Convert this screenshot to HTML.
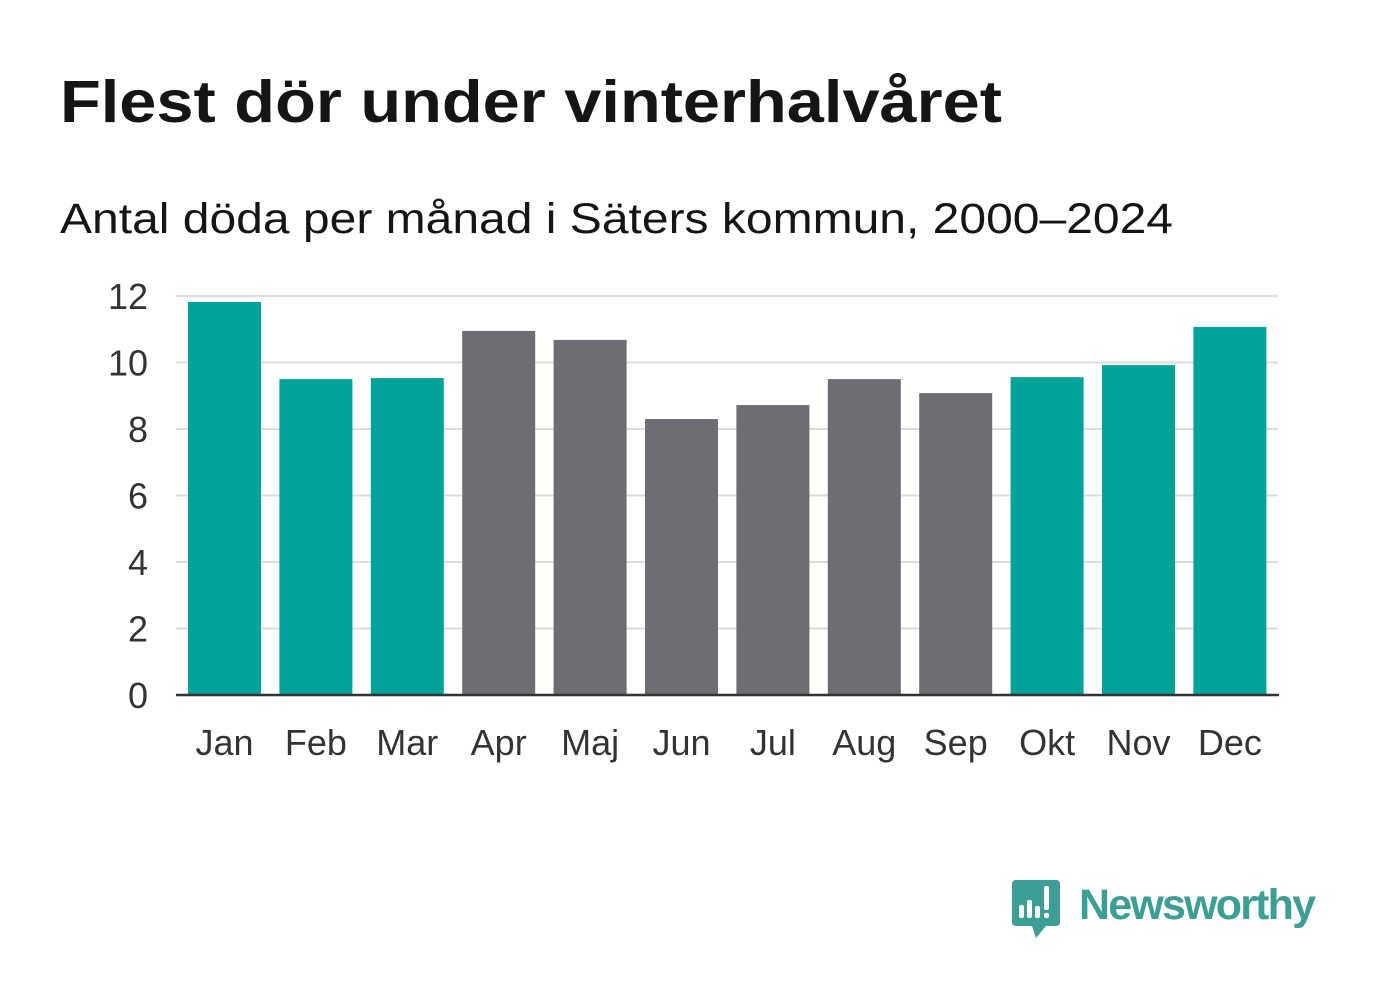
<!DOCTYPE html>
<html><head><meta charset="utf-8"><style>
body{margin:0;width:1382px;height:999px;background:#fff;font-family:"Liberation Sans",sans-serif;overflow:hidden}
svg{position:absolute;left:0;top:0}
</style></head><body>
<svg width="1382" height="999">
<text x="60" y="122" font-size="59" font-weight="bold" fill="#151515" textLength="942" lengthAdjust="spacingAndGlyphs">Flest dör under vinterhalvåret</text>
<text x="60" y="233" font-size="43" fill="#151515" textLength="1113" lengthAdjust="spacingAndGlyphs">Antal döda per månad i Säters kommun, 2000–2024</text>
<g id="grid"></g><g id="bars"></g><g id="xl"></g>
<line x1="176" x2="1279" y1="695" y2="695" stroke="#333" stroke-width="2.5"/>
<g>
<path d="M1016 880 H1056 Q1060 880 1060 884 V922 Q1060 926 1056 926 H1046 L1036 938 L1032 926 H1016 Q1012 926 1012 922 V884 Q1012 880 1016 880 Z" fill="#3d9e95"/>
<rect x="1019" y="905" width="5" height="13" rx="2" fill="#fff"/>
<rect x="1027" y="900" width="5" height="18" rx="2" fill="#fff"/>
<rect x="1035" y="906" width="5" height="12" rx="2" fill="#fff"/>
<rect x="1044" y="886" width="5" height="24" rx="2" fill="#fff"/>
<rect x="1044" y="913" width="5" height="5" rx="2" fill="#fff"/>
<text x="1079" y="919" font-size="43" font-weight="bold" fill="#3d9e95" textLength="237">Newsworthy</text>
</g>
</svg>
<script>
const months=["Jan","Feb","Mar","Apr","Maj","Jun","Jul","Aug","Sep","Okt","Nov","Dec"];
const values=[11.82,9.5,9.53,10.95,10.68,8.3,8.72,9.5,9.08,9.56,9.92,11.07];
const winter=[true,true,true,false,false,false,false,false,false,true,true,true];
const yTicks=[0,2,4,6,8,10,12];
const NS="http://www.w3.org/2000/svg";
const y0=695,pxPer=33.25,x0=179,step=91.4,bw=73;
const yScale=v=>y0-v*pxPer;
const xScale=i=>x0+i*step+9;
function mk(t,a,p){const e=document.createElementNS(NS,t);for(const k in a)e.setAttribute(k,a[k]);p.appendChild(e);return e;}
const grid=document.getElementById('grid'),bars=document.getElementById('bars'),xl=document.getElementById('xl');
yTicks.forEach(v=>{
 if(v>0){const l=mk('line',{x1:176,x2:1278,y1:yScale(v),y2:yScale(v),stroke:'#dcdcdc','stroke-width':2},grid);
 
 }
 const t=mk('text',{x:148,y:yScale(v)+13,'font-size':36,fill:'#333','text-anchor':'end'},grid);t.textContent=v;
 
 
});
months.forEach((m,i)=>{
 const r=mk('rect',{x:xScale(i),y:yScale(values[i]),width:bw,height:values[i]*pxPer,fill:winter[i]?'#00a39a':'#6e6d73'},bars);
 
 
 const t=mk('text',{x:xScale(i)+bw/2,y:755,'font-size':36,fill:'#333','text-anchor':'middle'},xl);t.textContent=m;
 
 
});
</script>
</body></html>
